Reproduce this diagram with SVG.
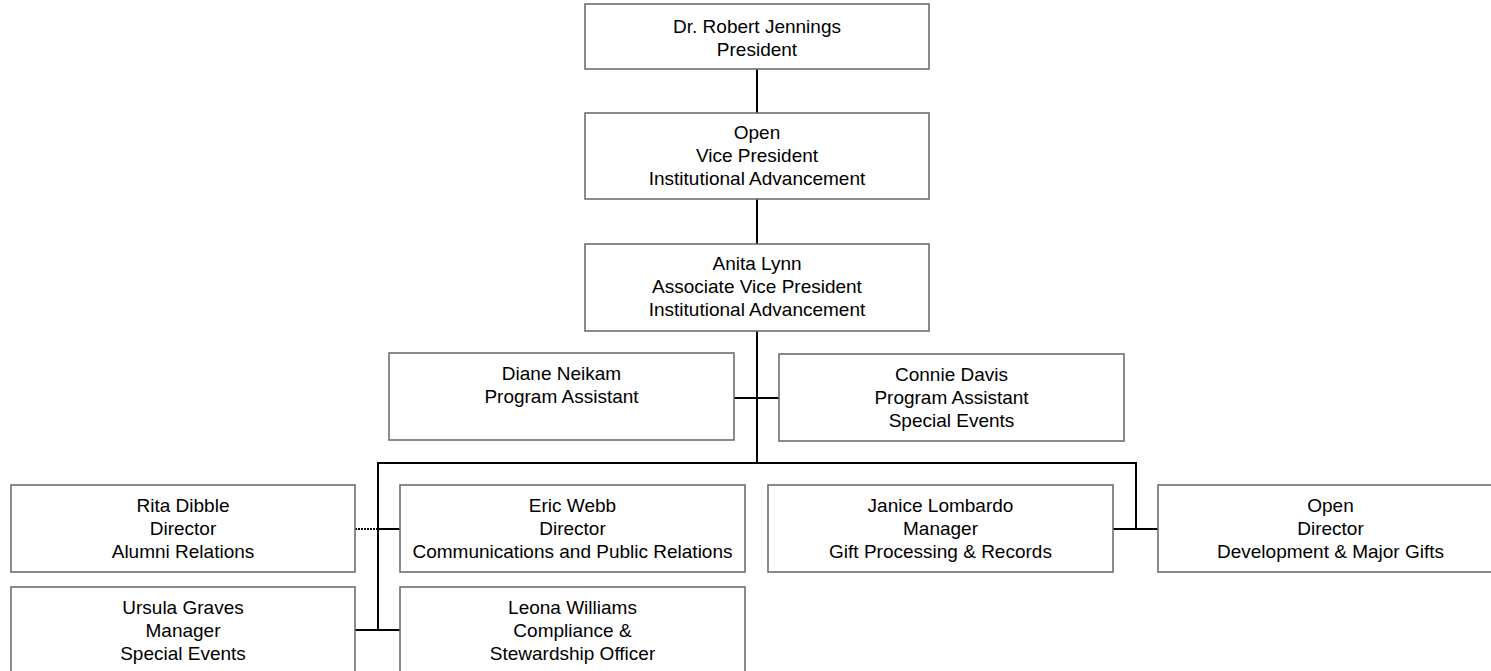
<svg xmlns="http://www.w3.org/2000/svg" width="1491" height="671" viewBox="0 0 1491 671">
<style>
  .box { fill: #ffffff; stroke: #6e6e6e; stroke-width: 1.6; }
  .lbl { font-family: "Liberation Sans", Arial, sans-serif; font-size: 19px; fill: #000000; text-anchor: middle; }
  .con { stroke: #000000; stroke-width: 2; fill: none; }
  .dot { stroke: #000000; stroke-width: 2; stroke-dasharray: 2 1; fill: none; }
</style>
<rect width="1491" height="671" fill="#ffffff"/>
<g id="connectors">
  <line class="con" x1="757" y1="69" x2="757" y2="113"/>
  <line class="con" x1="757" y1="199" x2="757" y2="244"/>
  <line class="con" x1="757" y1="331" x2="757" y2="463"/>
  <line class="con" x1="734" y1="398" x2="779" y2="398"/>
  <line class="con" x1="377" y1="463" x2="1137" y2="463"/>
  <line class="con" x1="378" y1="462" x2="378" y2="631"/>
  <line class="con" x1="1136" y1="462" x2="1136" y2="530"/>
  <line class="con" x1="1113" y1="529" x2="1158" y2="529"/>
  <line class="con" x1="378" y1="529" x2="400" y2="529"/>
  <line class="dot" x1="355" y1="529" x2="378" y2="529"/>
  <line class="con" x1="355" y1="630" x2="400" y2="630"/>
</g>
<g id="president">
  <rect class="box" x="585" y="4" width="344" height="65"/>
  <text class="lbl" x="757" y="33">Dr. Robert Jennings</text>
  <text class="lbl" x="757" y="56">President</text>
</g>
<g id="vp">
  <rect class="box" x="585" y="113" width="344" height="86"/>
  <text class="lbl" x="757" y="139">Open</text>
  <text class="lbl" x="757" y="162">Vice President</text>
  <text class="lbl" x="757" y="185">Institutional Advancement</text>
</g>
<g id="avp">
  <rect class="box" x="585" y="244" width="344" height="87"/>
  <text class="lbl" x="757" y="270">Anita Lynn</text>
  <text class="lbl" x="757" y="293">Associate Vice President</text>
  <text class="lbl" x="757" y="316">Institutional Advancement</text>
</g>
<g id="diane">
  <rect class="box" x="389" y="353" width="345" height="87"/>
  <text class="lbl" x="561.5" y="380">Diane Neikam</text>
  <text class="lbl" x="561.5" y="403">Program Assistant</text>
</g>
<g id="connie">
  <rect class="box" x="779" y="354" width="345" height="87"/>
  <text class="lbl" x="951.5" y="381">Connie Davis</text>
  <text class="lbl" x="951.5" y="404">Program Assistant</text>
  <text class="lbl" x="951.5" y="427">Special Events</text>
</g>
<g id="rita">
  <rect class="box" x="11" y="485" width="344" height="87"/>
  <text class="lbl" x="183" y="512">Rita Dibble</text>
  <text class="lbl" x="183" y="535">Director</text>
  <text class="lbl" x="183" y="558">Alumni Relations</text>
</g>
<g id="eric">
  <rect class="box" x="400" y="485" width="345" height="87"/>
  <text class="lbl" x="572.5" y="512">Eric Webb</text>
  <text class="lbl" x="572.5" y="535">Director</text>
  <text class="lbl" x="572.5" y="558">Communications and Public Relations</text>
</g>
<g id="janice">
  <rect class="box" x="768" y="485" width="345" height="87"/>
  <text class="lbl" x="940.5" y="512">Janice Lombardo</text>
  <text class="lbl" x="940.5" y="535">Manager</text>
  <text class="lbl" x="940.5" y="558">Gift Processing &amp; Records</text>
</g>
<g id="open-director">
  <rect class="box" x="1158" y="485" width="345" height="87"/>
  <text class="lbl" x="1330.5" y="512">Open</text>
  <text class="lbl" x="1330.5" y="535">Director</text>
  <text class="lbl" x="1330.5" y="558">Development &amp; Major Gifts</text>
</g>
<g id="ursula">
  <rect class="box" x="11" y="587" width="344" height="87"/>
  <text class="lbl" x="183" y="614">Ursula Graves</text>
  <text class="lbl" x="183" y="637">Manager</text>
  <text class="lbl" x="183" y="660">Special Events</text>
</g>
<g id="leona">
  <rect class="box" x="400" y="587" width="345" height="87"/>
  <text class="lbl" x="572.5" y="614">Leona Williams</text>
  <text class="lbl" x="572.5" y="637">Compliance &amp;</text>
  <text class="lbl" x="572.5" y="660">Stewardship Officer</text>
</g>
</svg>
